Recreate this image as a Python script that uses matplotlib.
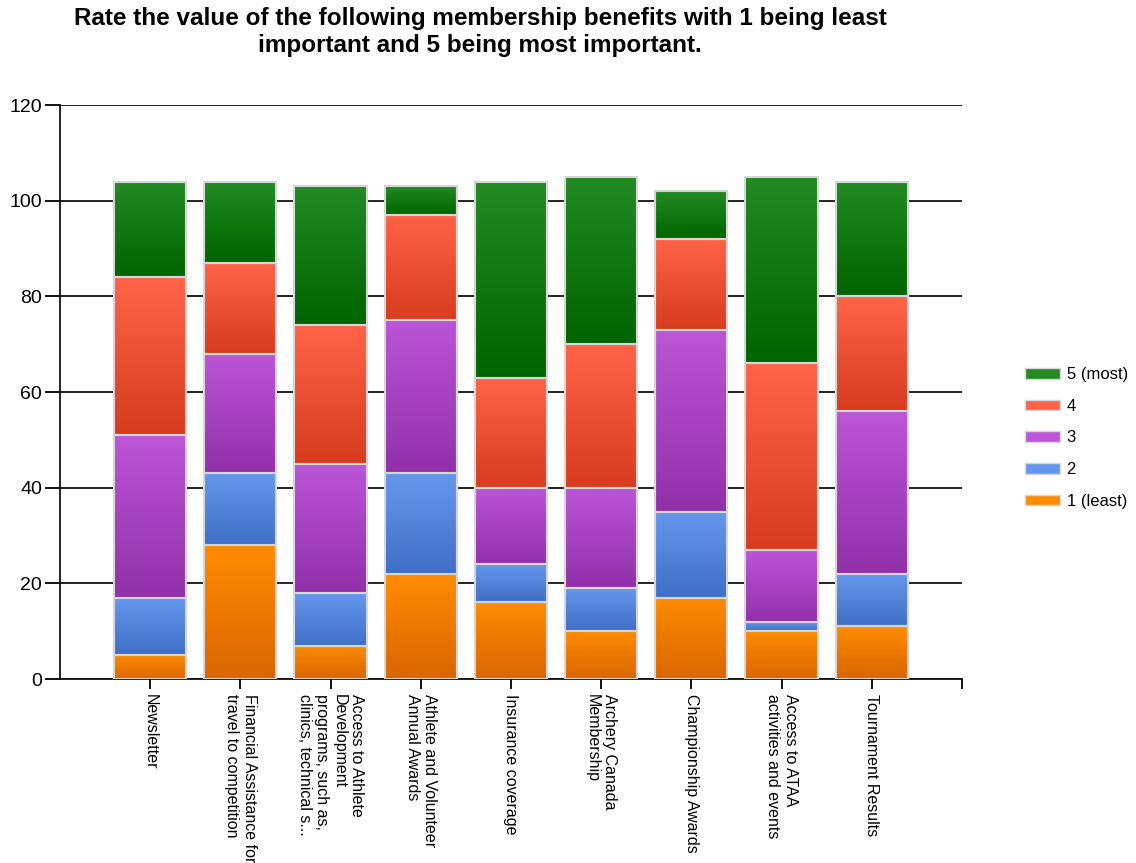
import matplotlib
matplotlib.use("Agg")
import matplotlib.pyplot as plt
import numpy as np
from matplotlib.colors import LinearSegmentedColormap
from matplotlib.patches import Patch

plt.rcParams["font.family"] = ["Liberation Sans", "DejaVu Sans"]

categories = [
    "Newsletter",
    "Financial Assistance for\ntravel to competition",
    "Access to Athlete\nDevelopment\nprograms, such as,\nclinics, technical s...",
    "Athlete and Volunteer\nAnnual Awards",
    "Insurance coverage",
    "Archery Canada\nMembership",
    "Championship Awards",
    "Access to ATAA\nactivities and events",
    "Tournament Results",
]
series_names = ["1 (least)", "2", "3", "4", "5 (most)"]
rating_1 = [5, 28, 7, 22, 16, 10, 17, 10, 11]
rating_2 = [12, 15, 11, 21, 8, 9, 18, 2, 11]
rating_3 = [34, 25, 27, 32, 16, 21, 38, 15, 34]
rating_4 = [33, 19, 29, 22, 23, 30, 19, 39, 24]
rating_5 = [20, 17, 29, 6, 41, 35, 10, 39, 24]
series = [rating_1, rating_2, rating_3, rating_4, rating_5]

# (top colour, bottom colour) of each segment's vertical gradient
gradients = [
    ("#ff8c00", "#d96600"),
    ("#6598ec", "#3f6fc6"),
    ("#bb56d8", "#9230aa"),
    ("#ff6448", "#d83c1e"),
    ("#238b23", "#006400"),
]

fig = plt.figure(figsize=(11.36, 8.63), dpi=100)
ax = fig.add_axes([0.0528, 0.2132, 0.794, 0.6651])

x = np.arange(len(categories))
bottom = np.zeros(len(categories))
ramp = np.linspace(0, 1, 256).reshape(-1, 1)
for vals, (top_c, bot_c) in zip(series, gradients):
    cmap = LinearSegmentedColormap.from_list("g", [bot_c, top_c])
    bars = ax.bar(x, vals, 0.8, bottom=bottom, facecolor="none",
                  edgecolor="#d6d6d6", linewidth=1.5, zorder=3)
    for b in bars:
        x0, y0 = b.get_x(), b.get_y()
        img = ax.imshow(ramp, cmap=cmap, origin="lower", aspect="auto",
                        extent=[x0, x0 + b.get_width(), y0, y0 + b.get_height()],
                        zorder=2, interpolation="bicubic")
        img.set_clip_path(b)
    bottom += np.array(vals)

ax.set_xlim(-1, 9)
ax.set_ylim(0, 120)
ax.set_yticks(range(0, 121, 20))
ax.yaxis.grid(True, color="#111111", linewidth=1.3)
ax.set_axisbelow(True)
for s in ("top", "right"):
    ax.spines[s].set_visible(False)
for s in ("left", "bottom"):
    ax.spines[s].set_linewidth(1.3)
    ax.spines[s].set_color("#111111")

ax.set_xticks(x)
ax.set_xticklabels(categories, rotation=270, ha="center", va="top",
                   multialignment="left", fontsize=11.5, linespacing=1.2)
ax.set_xticks([9], minor=True)
ax.tick_params(axis="x", which="both", length=7, width=1.3, pad=4)
ax.tick_params(axis="y", length=11, width=1.3, labelsize=14, pad=2)

fig.text(0.4225, 0.992,
         "Rate the value of the following membership benefits with 1 being least\n"
         "important and 5 being most important.",
         ha="center", va="top", fontsize=17.5, fontweight="bold", linespacing=1.2)

handles = [Patch(facecolor=top_c, edgecolor="#d6d6d6", label=name)
           for name, (top_c, bot_c) in zip(series_names, gradients)]
fig.legend(handles[::-1], series_names[::-1], loc="center left",
           bbox_to_anchor=(0.896, 0.4925), frameon=False, fontsize=12,
           handlelength=2.1, handleheight=0.6, labelspacing=1.0, handletextpad=0.42,
           borderaxespad=0.0)

fig.savefig("out.png", dpi=100)
